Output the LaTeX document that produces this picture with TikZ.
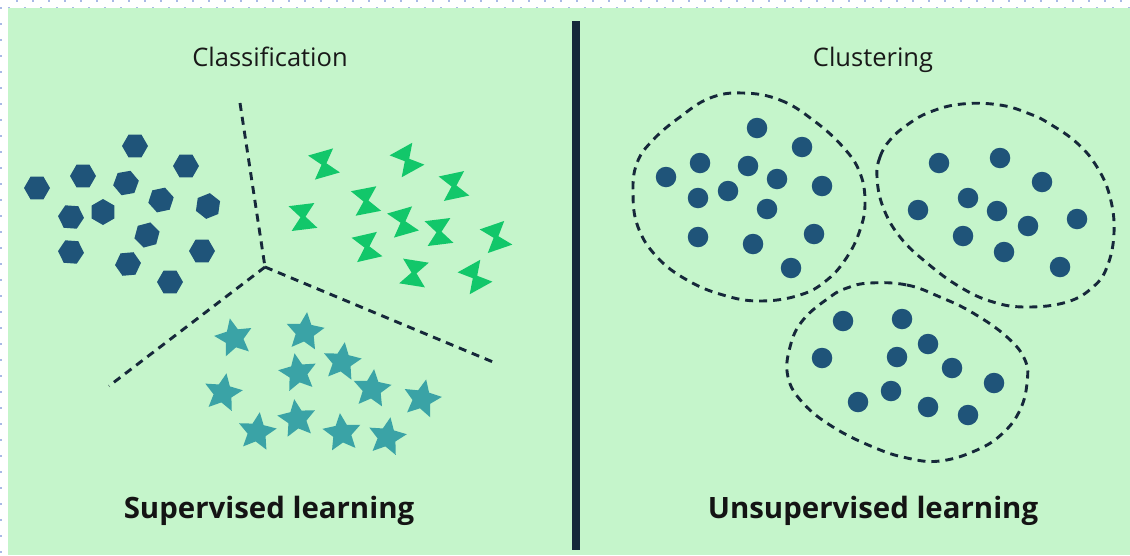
\documentclass[tikz,border=0pt]{standalone}
\usepackage{fontspec}
\setmainfont{Open Sans}
\usetikzlibrary{shapes.geometric}

\definecolor{bggreen}{HTML}{C5F5CB}
\definecolor{hexblue}{HTML}{1F5479}
\definecolor{tiegreen}{HTML}{12C76A}
\definecolor{starteal}{HTML}{3AA3A6}
\definecolor{inkdark}{HTML}{16283A}
\definecolor{gridblue}{HTML}{A9B9E6}

\tikzset{
  hexa/.style={regular polygon, regular polygon sides=6, minimum size=26pt,
    inner sep=0pt, outer sep=0pt, fill=hexblue},
  starmark/.style={star, star points=5, star point ratio=2.1, minimum size=40pt,
    inner sep=0pt, outer sep=0pt, fill=starteal},
  dot/.style={circle, minimum size=20.5pt, inner sep=0pt, fill=hexblue},
  boundary/.style={draw=inkdark, line width=2.9pt, dash pattern=on 8pt off 6pt},
  smalltitle/.style={anchor=base, text=black!90, font=\fontsize{25.5}{30}\selectfont},
  bigtitle/.style={anchor=base, text=black!92, font=\bfseries\fontsize{29.4}{35}\selectfont},
  hourglass/.pic={
    \fill[tiegreen] (-13,-12.5) -- (13,-12.5) -- (0,3) -- cycle;
    \fill[tiegreen] (-13,12.5) -- (13,12.5) -- (0,-3) -- cycle;
  }
}

\begin{document}
\begin{tikzpicture}[x=1pt,y=-1pt]
\useasboundingbox (0,0) rectangle (1130,555);

% dotted frame in the white margin
\foreach \i in {0,...,70} {
  \fill[gridblue] (16.5+16*\i-1,0) rectangle ++(2,2);
  \fill[gridblue] (8.5+16*\i-1,6.5) rectangle ++(2,2);
}
\foreach \j in {0,...,34} {
  \fill[gridblue] (0,7.5+16*\j-1) rectangle ++(2,2);
}

% background panel
\fill[bggreen] (8,8) rectangle (1130,555);

% central divider
\coordinate (divtop) at (576,21);
\coordinate (divbot) at (576,550);
\draw[inkdark, line width=8.5pt] (divtop) -- (divbot);

% ---------- classification ----------
\node[smalltitle] (clstitle) at (270,66) {Classification};

\coordinate (jn) at (265,267);
\coordinate (bt) at (240,103);
\coordinate (bl) at (109,386);
\coordinate (br) at (493,362);
\draw[boundary] (bt) -- (jn);
\draw[boundary] (jn) -- (bl);
\draw[boundary] (jn) -- (br);

% hexagons
\node[hexa] (h1) at (135,146) {};
\node[hexa] (h2) at (186,166) {};
\node[hexa] (h3) at (37,188) {};
\node[hexa] (h4) at (83,176) {};
\node[hexa, rotate=10] (h5) at (126,183) {};
\node[hexa, rotate=12] (h6) at (161,200) {};
\node[hexa, rotate=22] (h7) at (208,206) {};
\node[hexa, rotate=-4] (h8) at (71,217) {};
\node[hexa, rotate=30] (h9) at (103,212) {};
\node[hexa, rotate=15] (h10) at (147,235) {};
\node[hexa, rotate=-4] (h11) at (71,252) {};
\node[hexa] (h12) at (202,251) {};
\node[hexa, rotate=5] (h13) at (128,264) {};
\node[hexa] (h14) at (170,282) {};

% hourglasses
\pic[rotate=16] at (324,164) {hourglass};
\pic[rotate=29] at (407,160) {hourglass};
\pic[rotate=12] at (454,186) {hourglass};
\pic[rotate=7]  at (303,217) {hourglass};
\pic[rotate=11] at (366,201) {hourglass};
\pic[rotate=16] at (403,222) {hourglass};
\pic[rotate=7]  at (439,232) {hourglass};
\pic[rotate=19] at (496,237) {hourglass};
\pic[rotate=13] at (367,247) {hourglass};
\pic[rotate=-9] at (414,273) {hourglass};
\pic[rotate=29] at (475,277) {hourglass};

% stars
\node[starmark, rotate=12] (s1) at (234,338) {};
\node[starmark, rotate=-6] (s2) at (305,332) {};
\node[starmark, rotate=-8] (s3) at (342,362) {};
\node[starmark, rotate=10] (s4) at (298,373) {};
\node[starmark, rotate=-10] (s5) at (223,393) {};
\node[starmark, rotate=-6] (s6) at (372,389) {};
\node[starmark, rotate=-12] (s7) at (422,399) {};
\node[starmark, rotate=8] (s8) at (297,419) {};
\node[starmark, rotate=-8] (s9) at (257,432) {};
\node[starmark, rotate=6] (s10) at (342,433) {};
\node[starmark, rotate=-10] (s11) at (387,437) {};

\node[bigtitle] (suptitle) at (269,518) {Supervised learning};

% ---------- clustering ----------
\node[smalltitle] (clutitle) at (873,66) {Clustering};

\draw[boundary] plot[smooth cycle, tension=0.7] coordinates {
  (743,93) (780,100) (813,120) (843,147) (860,173) (865,203) (860,230)
  (847,257) (827,280) (800,295) (760,301) (723,295) (687,280) (657,257)
  (638,227) (633,193) (637,163) (653,140) (680,117) (710,98)};
\draw[boundary] plot[smooth cycle, tension=0.7] coordinates {
  (877,177) (880,157) (890,140) (907,125) (930,112) (962,104) (1000,105)
  (1030,114) (1050,124) (1077,143) (1097,167) (1110,197) (1114,233)
  (1107,267) (1093,287) (1067,302) (1027,307) (993,302) (960,287)
  (927,263) (900,237) (883,207)};
\draw[boundary] plot[smooth cycle, tension=0.7] coordinates {
  (870,283) (907,285) (940,297) (973,313) (1007,337) (1025,360) (1027,383)
  (1020,410) (1003,433) (977,450) (940,461) (907,458) (873,447) (833,427)
  (803,403) (788,377) (790,347) (803,320) (830,297) (847,288)};

% cluster A
\foreach \p [count=\k] in {(757,128),(802,147),(700,163),(748,166),(666,177),
  (777,179),(822,186),(728,191),(698,198),(767,209),(698,237),(814,234),
  (753,244),(791,268)}
  \node[dot] (a\k) at \p {};
% cluster B
\foreach \p [count=\k] in {(939,163),(1000,158),(1042,182),(968,198),(918,210),
  (997,211),(1077,219),(1028,226),(963,236),(1004,252),(1060,267)}
  \node[dot] (b\k) at \p {};
% cluster C
\foreach \p [count=\k] in {(843,321),(902,319),(928,344),(822,358),(897,357),
  (952,368),(994,383),(891,391),(858,402),(928,407),(968,415)}
  \node[dot] (c\k) at \p {};

\node[bigtitle] (unsuptitle) at (873,518) {Unsupervised learning};
\end{tikzpicture}
\end{document}
